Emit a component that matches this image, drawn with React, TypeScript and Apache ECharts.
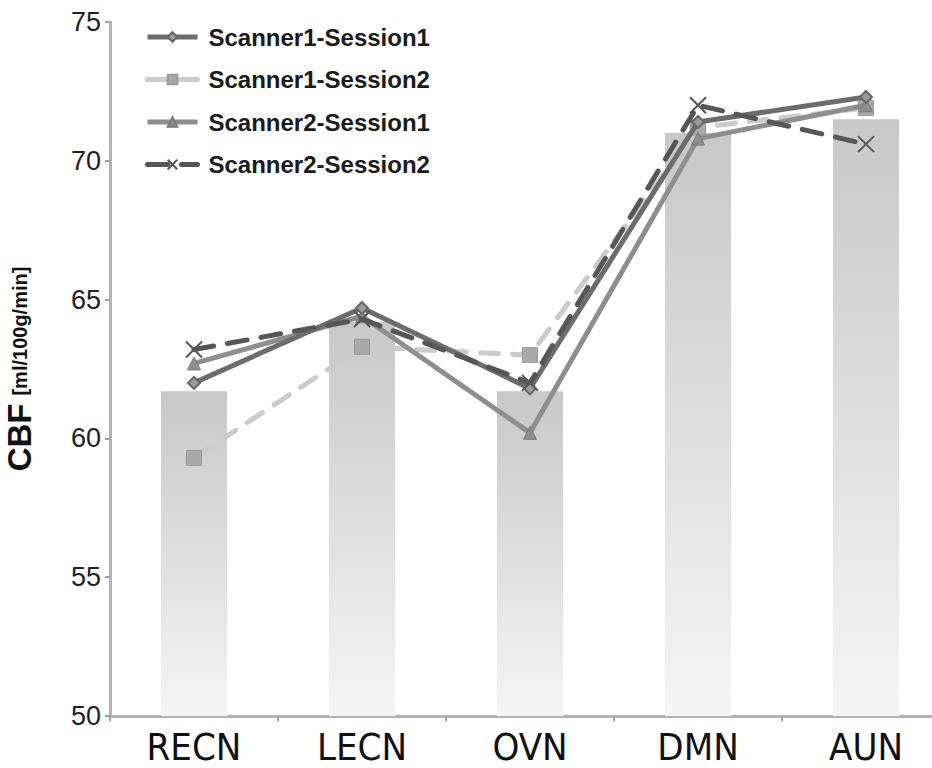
import React, { useEffect, useRef } from "react";
import * as echarts from "echarts";

const categories = ["RECN", "LECN", "OVN", "DMN", "AUN"];
const barValues = [61.7, 64.2, 61.7, 71.0, 71.5];
const s1s1 = [62.0, 64.7, 61.8, 71.4, 72.3];
const s1s2 = [59.3, 63.3, 63.0, 71.2, 71.9];
const s2s1 = [62.7, 64.4, 60.2, 70.8, 72.0];
const s2s2 = [63.2, 64.3, 62.0, 72.0, 70.6];
const yTicks = [50, 55, 60, 65, 70, 75];

export default function App() {
  const ref = useRef<HTMLDivElement>(null);
  useEffect(() => {
    if (!ref.current) return;
    const chart = echarts.init(ref.current, null, { renderer: "svg" });
    const font = "'Liberation Sans', Arial, sans-serif";
    chart.setOption({
      animation: false,
      backgroundColor: "#ffffff",
      grid: { left: 110, right: -18, top: 22, bottom: 52, outerBoundsMode: "none", containLabel: false },
      legend: {
        left: 140,
        top: 20,
        orient: "vertical",
        itemWidth: 50,
        itemHeight: 12,
        itemGap: 18.5,
        lineStyle: { width: 5 },
        data: ["Scanner1-Session1", "Scanner1-Session2", "Scanner2-Session1", "Scanner2-Session2"],
        textStyle: { fontFamily: font, fontWeight: "bold", fontSize: 24, color: "#1a1a1a", padding: [0, 0, 0, 6] },
      },
      xAxis: {
        type: "category",
        data: categories,
        boundaryGap: true,
        axisLine: { lineStyle: { color: "#b4b4b4", width: 3 } },
        axisTick: { show: true, length: 5, lineStyle: { color: "#a0a0a0", width: 2 } },
        axisLabel: {
          fontFamily: "'Liberation Sans Narrow', 'DejaVu Sans Condensed', sans-serif",
          fontSize: 38,
          color: "#111",
          margin: 12,
        },
      },
      yAxis: {
        type: "value",
        min: yTicks[0],
        max: yTicks[yTicks.length - 1],
        interval: 5,
        splitLine: { show: false },
        axisLine: { show: true, lineStyle: { color: "#b4b4b4", width: 3 } },
        axisTick: { show: true, length: 5, lineStyle: { color: "#a0a0a0", width: 2 } },
        axisLabel: { fontFamily: font, fontSize: 27, color: "#222", margin: 9 },
        name: "{a|CBF}{b|[ml/100g/min]}",
        nameLocation: "middle",
        nameRotate: 90,
        nameGap: 74,
        nameTextStyle: {
          rich: {
            a: { fontFamily: font, fontWeight: "bold", fontSize: 33, color: "#111" },
            b: { fontFamily: font, fontWeight: "bold", fontSize: 20, color: "#111", padding: [0, 0, 0, 8] },
          },
        },
      },
      series: [
        {
          type: "bar",
          name: "mean",
          data: barValues,
          barWidth: 66,
          itemStyle: {
            color: new echarts.graphic.LinearGradient(0, 0, 0, 1, [
              { offset: 0, color: "#c8c8c8" },
              { offset: 1, color: "#f5f5f5" },
            ]),
          },
          z: 1,
        },
        {
          type: "line",
          name: "Scanner1-Session2",
          data: s1s2,
          symbol: "rect",
          symbolSize: 15,
          lineStyle: { color: "#cbcbcb", width: 5, type: [18, 14], cap: "round" },
          itemStyle: { color: "#a9a9a9", borderColor: "#999", borderWidth: 1 },
          z: 3,
        },
        {
          type: "line",
          name: "Scanner2-Session1",
          data: s2s1,
          symbol: "triangle",
          symbolSize: 13,
          lineStyle: { color: "#8e8e8e", width: 5 },
          itemStyle: { color: "#8e8e8e", borderColor: "#7a7a7a", borderWidth: 1 },
          z: 4,
        },
        {
          type: "line",
          name: "Scanner1-Session1",
          data: s1s1,
          symbol: "diamond",
          symbolSize: 12,
          lineStyle: { color: "#6c6c6c", width: 5 },
          itemStyle: { color: "#9a9a9a", borderColor: "#666", borderWidth: 2 },
          z: 5,
        },
        {
          type: "line",
          name: "Scanner2-Session2",
          data: s2s2,
          symbol: "path://M0,0L10,10M10,0L0,10",
          symbolSize: 16,
          lineStyle: { color: "#565656", width: 5, type: [20, 14], cap: "round" },
          itemStyle: { color: "#565656", borderColor: "#565656", borderWidth: 2 },
          z: 6,
        },
      ],
    });
    return () => chart.dispose();
  }, []);
  return <div ref={ref} style={{ position: "absolute", left: 0, top: 0, width: 932, height: 768 }} />;
}
